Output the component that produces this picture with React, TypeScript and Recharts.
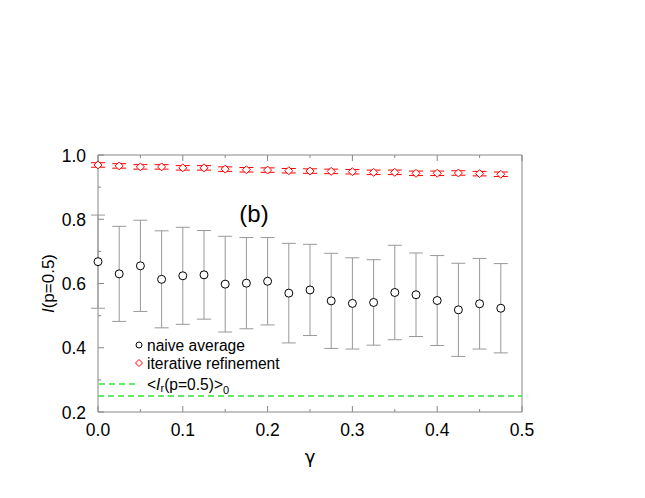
import { ComposedChart, ErrorBar, ReferenceArea, ReferenceLine, Scatter, XAxis, YAxis } from "recharts";

const gamma = [
  0, 0.025, 0.05, 0.075, 0.1, 0.125, 0.15, 0.175, 0.2, 0.225, 0.25, 0.275, 0.3,
  0.325, 0.35, 0.375, 0.4, 0.425, 0.45, 0.475,
];
const naiveMean = [
  0.668, 0.63, 0.655, 0.613, 0.624, 0.627, 0.598, 0.601, 0.607, 0.57, 0.58,
  0.546, 0.538, 0.541, 0.572, 0.565, 0.547, 0.518, 0.537, 0.523,
];
const naiveErr = [
  0.145, 0.148, 0.142, 0.151, 0.151, 0.138, 0.149, 0.142, 0.136, 0.155, 0.142,
  0.148, 0.142, 0.133, 0.147, 0.13, 0.14, 0.145, 0.141, 0.139,
];
const refinedMean = [
  0.969, 0.966, 0.963, 0.963, 0.96, 0.96, 0.956, 0.954, 0.953, 0.951, 0.95,
  0.949, 0.948, 0.946, 0.946, 0.943, 0.943, 0.944, 0.942, 0.94,
];
const refinedErr = [
  0.007, 0.007, 0.007, 0.007, 0.007, 0.007, 0.007, 0.007, 0.007, 0.007, 0.007,
  0.007, 0.007, 0.007, 0.007, 0.007, 0.007, 0.007, 0.007, 0.007,
];
const baseline = 0.25;

const xMajor = [0, 0.1, 0.2, 0.3, 0.4, 0.5];
const xTicks = [0, 0.05, 0.1, 0.15, 0.2, 0.25, 0.3, 0.35, 0.4, 0.45, 0.5];
const yMajor = [0.2, 0.4, 0.6, 0.8, 1.0];
const yTicks = [0.2, 0.3, 0.4, 0.5, 0.6, 0.7, 0.8, 0.9, 1.0];

const data = gamma.map((g, i) => ({
  gamma: g,
  naive: naiveMean[i],
  naiveErr: naiveErr[i],
  refined: refinedMean[i],
  refinedErr: refinedErr[i],
}));

const FONT = "'Liberation Sans', Arial, sans-serif";
const AXIS = "#888";
const GREEN = "#33e633";

// plot box edges (px)
const PL = 98;
const PR = 522;
const PT = 155;
const PB = 412;

const circle = (p: any) => (
  <circle cx={p.cx} cy={p.cy} r={4} fill="#fff" stroke="#000" strokeWidth={1} />
);
const diamond = (p: any) => (
  <path
    d={`M${p.cx},${p.cy - 4}L${p.cx + 4},${p.cy}L${p.cx},${p.cy + 4}L${p.cx - 4},${p.cy}Z`}
    fill="#fff"
    stroke="#f00"
    strokeWidth={1}
  />
);

const near = (list: number[], v: number) => list.some((m) => Math.abs(m - v) < 1e-6);

const bottomTick = (p: any) => {
  const v = p.payload.value;
  const major = near(xMajor, v);
  return (
    <g>
      <line x1={p.x} x2={p.x} y1={PB} y2={PB - (major ? 6 : 3)} stroke={AXIS} />
      {major && (
        <text x={p.x} y={436} textAnchor="middle" fontSize={17.5} fontFamily={FONT} fill="#000">
          {v.toFixed(1)}
        </text>
      )}
    </g>
  );
};
const topTick = (p: any) => {
  const major = near(xMajor, p.payload.value);
  return <line x1={p.x} x2={p.x} y1={PT} y2={PT + (major ? 6 : 3)} stroke={AXIS} />;
};
const leftTick = (p: any) => {
  const v = p.payload.value;
  const major = near(yMajor, v);
  return (
    <g>
      <line x1={PL} x2={PL + (major ? 6 : 3)} y1={p.y} y2={p.y} stroke={AXIS} />
      {major && (
        <text x={86} y={p.y + 6.5} textAnchor="end" fontSize={17.5} fontFamily={FONT} fill="#000">
          {v.toFixed(1)}
        </text>
      )}
    </g>
  );
};
const rightTick = (p: any) => {
  const major = near(yMajor, p.payload.value);
  return <line x1={PR} x2={PR - (major ? 6 : 3)} y1={p.y} y2={p.y} stroke={AXIS} />;
};

export default function App() {
  return (
    <div style={{ position: "absolute", left: 0, top: 0, width: 645, height: 498, background: "#fff" }}>
      <ComposedChart
        width={645}
        height={498}
        data={data}
        margin={{ top: PT, right: 645 - PR, bottom: 498 - PB - 40, left: PL - 60 }}
      >
        <XAxis
          dataKey="gamma"
          type="number"
          domain={[0, 0.5]}
          ticks={xTicks}
          interval={0}
          tickLine={false}
          axisLine={false}
          height={40}
          tick={bottomTick}
        />
        <XAxis
          xAxisId="top"
          orientation="top"
          dataKey="gamma"
          type="number"
          domain={[0, 0.5]}
          ticks={xTicks}
          interval={0}
          mirror
          height={1}
          tickLine={false}
          axisLine={false}
          tick={topTick}
        />
        <YAxis
          type="number"
          domain={[0.2, 1.0]}
          ticks={yTicks}
          interval={0}
          tickLine={false}
          axisLine={false}
          width={60}
          tick={leftTick}
          label={{
            content: (props: any) => {
              const vb = props.viewBox;
              const cx = vb.x + 10;
              const cy = vb.y + vb.height / 2;
              return (
                <text
                  x={cx}
                  y={cy}
                  transform={`rotate(-90 ${cx} ${cy})`}
                  textAnchor="middle"
                  dominantBaseline="central"
                  fontFamily={FONT}
                  fontSize={17}
                  fill="#000"
                >
                  <tspan fontStyle="italic">I</tspan>
                  <tspan>(p=0.5)</tspan>
                </text>
              );
            },
          }}
        />
        <YAxis
          yAxisId="right"
          orientation="right"
          type="number"
          domain={[0.2, 1.0]}
          ticks={yTicks}
          interval={0}
          mirror
          width={1}
          tickLine={false}
          axisLine={false}
          tick={rightTick}
        />

        <ReferenceArea x1={0} x2={0.5} y1={0.2} y2={1.0} fill="none" stroke={AXIS} strokeWidth={1} />
        <ReferenceLine y={baseline} stroke={GREEN} strokeWidth={1.5} strokeDasharray="6 4" />

        <Scatter dataKey="naive" shape={circle} isAnimationActive={false}>
          <ErrorBar dataKey="naiveErr" direction="y" width={7} stroke="#999" strokeWidth={1} />
        </Scatter>
        <Scatter dataKey="refined" shape={diamond} isAnimationActive={false}>
          <ErrorBar dataKey="refinedErr" direction="y" width={7} stroke="#f00" strokeWidth={1} />
        </Scatter>
      </ComposedChart>

      <svg
        width={645}
        height={498}
        style={{ position: "absolute", left: 0, top: 0, pointerEvents: "none" }}
        fontFamily={FONT}
      >
        <text x={254} y={213} textAnchor="middle" dominantBaseline="central" fontSize={24} fill="#000">
          (b)
        </text>
        <circle cx={139} cy={345} r={3} fill="#fff" stroke="#000" />
        <text x={147} y={345} dominantBaseline="central" fontSize={15.6} fill="#000">
          naive average
        </text>
        <path d="M139,359.5L142.5,363L139,366.5L135.5,363Z" fill="#fff" stroke="#f00" />
        <text x={147} y={363} dominantBaseline="central" fontSize={15.6} fill="#000">
          iterative refinement
        </text>
        <line x1={99} y1={384} x2={135} y2={384} stroke={GREEN} strokeWidth={1.5} strokeDasharray="6 4" />
        <text x={147} y={384} dominantBaseline="central" fontSize={15.6} fill="#000">
          {"<"}
          <tspan fontStyle="italic">I</tspan>
          <tspan fontSize={11} dy={4}>r</tspan>
          <tspan dy={-4}>(p=0.5)&gt;</tspan>
          <tspan fontSize={11} dy={6}>0</tspan>
        </text>
        <text x={310} y={456} textAnchor="middle" dominantBaseline="central" fontSize={18} fontFamily="'DejaVu Sans', sans-serif" fill="#000">
          γ
        </text>
      </svg>
    </div>
  );
}
